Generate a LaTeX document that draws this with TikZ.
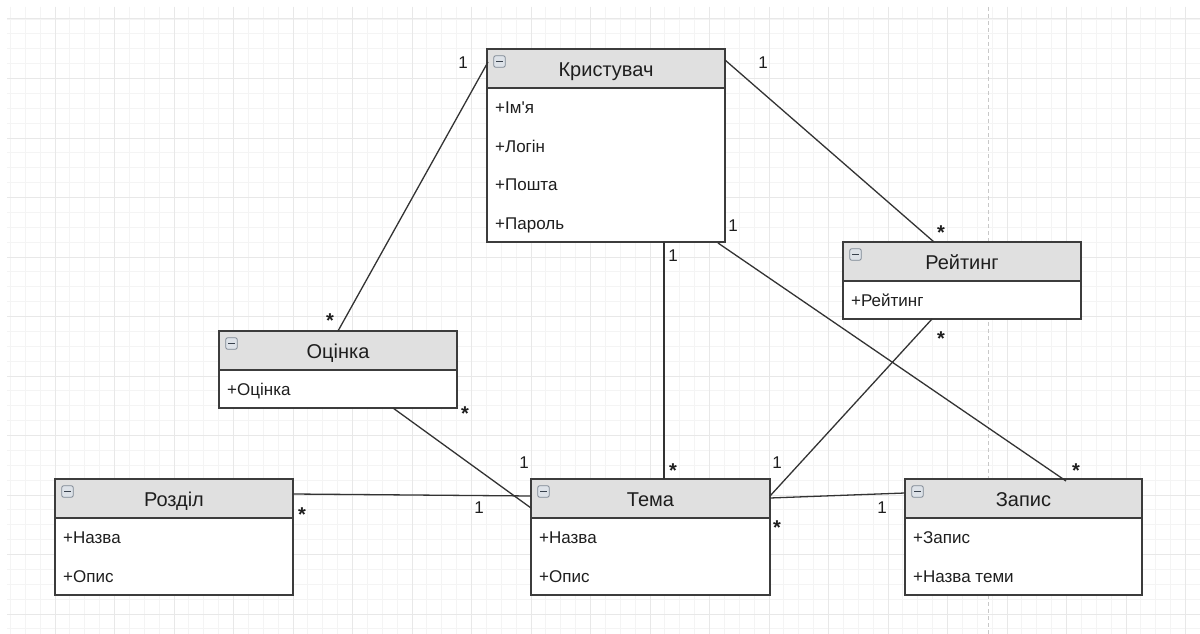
\documentclass[tikz,border=0pt]{standalone}
\usepackage{fontspec}
\setmainfont{Liberation Sans}
\newfontfamily\plain{Liberation Sans}
\usetikzlibrary{calc}
\definecolor{hdrfill}{HTML}{E0E0E0}
\definecolor{boxline}{HTML}{3C3C3C}
\definecolor{conn}{HTML}{333333}
\definecolor{txt}{HTML}{1E1E1E}
\definecolor{gridminor}{HTML}{F4F4F4}
\definecolor{gridmajor}{HTML}{E8E8E8}
\definecolor{dashcol}{HTML}{C8C8C8}
\definecolor{iconfill}{HTML}{DDE2E8}
\definecolor{iconline}{HTML}{7D8793}
\definecolor{icondash}{HTML}{39424D}
\begin{document}
\begin{tikzpicture}[x=1pt,y=-1pt,
  cls/.style={draw=boxline, line width=1.4pt, fill=white, rectangle, anchor=north west, inner sep=0pt, outer sep=0pt},
  title/.style={anchor=base, inner sep=0pt, text=txt, font=\plain\fontsize{20}{24}\selectfont},
  attr/.style={anchor=base west, inner sep=0pt, text=txt, font=\plain\fontsize{17}{20}\selectfont},
  lbl/.style={inner sep=0pt, text=txt, font=\plain\fontsize{17}{20}\selectfont},
  starlbl/.style={inner sep=0pt, text=txt, font=\plain\bfseries\fontsize{20}{24}\selectfont},
  icon/.style={draw=iconline, fill=iconfill, line width=0.8pt, rounded corners=2pt, minimum size=11.5pt, inner sep=0pt,
    path picture={\draw[line width=1.4pt, draw=icondash] ($(path picture bounding box.center)+(-3.2,0)$) -- ++(6.4,0);}},
  link/.style={draw=conn, line width=1.3pt}
]
\useasboundingbox (0,0) rectangle (1200,634);
\fill[white] (0,0) rectangle (1200,634);
% grid
\foreach \i in {-3,...,77} {
  \draw[gridminor, line width=0.8pt] ({55+14.875*\i},7) -- ({55+14.875*\i},634);
}
\foreach \j in {0,...,41} {
  \draw[gridminor, line width=0.8pt] (7,{19+14.875*\j}) -- (1200,{19+14.875*\j});
}
\foreach \i in {0,...,19} {
  \draw[gridmajor, line width=1pt] ({55+59.5*\i},7) -- ({55+59.5*\i},634);
}
\foreach \j in {0,...,10} {
  \draw[gridmajor, line width=1pt] (7,{19+59.5*\j}) -- (1200,{19+59.5*\j});
}
\draw[dashcol, line width=1pt, dash pattern=on 4pt off 3pt] (988,7) -- (988,634);

% classes
\node[cls, minimum width=238pt, minimum height=193pt] (k) at (487,49) {};
\node[cls, minimum width=238pt, minimum height=77pt] (o) at (219,331) {};
\node[cls, minimum width=238pt, minimum height=77pt] (r) at (843,242) {};
\node[cls, minimum width=238pt, minimum height=116pt] (rz) at (55,479) {};
\node[cls, minimum width=239pt, minimum height=116pt] (t) at (531,479) {};
\node[cls, minimum width=237pt, minimum height=116pt] (p) at (905,479) {};

\foreach \b in {k,o,r,rz,t,p} {
  \fill[hdrfill] (\b.north west) rectangle ($(\b.north east)+(0,39)$);
  \draw[boxline, line width=1.4pt] (\b.north west) rectangle (\b.south east);
  \draw[boxline, line width=1.4pt] ($(\b.north west)+(0,39)$) -- ($(\b.north east)+(0,39)$);
  \node[icon] (\b-icon) at ($(\b.north west)+(12.5,12.5)$) {};
}

% titles
\node[title] (k-t) at ($(k.north)+(0,27.5)$) {Кристувач};
\node[title] (o-t) at ($(o.north)+(0,27.5)$) {Оцінка};
\node[title] (r-t) at ($(r.north)+(0,27.5)$) {Рейтинг};
\node[title] (rz-t) at ($(rz.north)+(0,27.5)$) {Розділ};
\node[title] (t-t) at ($(t.north)+(0,27.5)$) {Тема};
\node[title] (p-t) at ($(p.north)+(0,27.5)$) {Запис};

% attributes
\node[attr] (k-a1) at ($(k.north west)+(8,64.5)$) {+Ім'я};
\node[attr] (k-a2) at ($(k.north west)+(8,103.2)$) {+Логін};
\node[attr] (k-a3) at ($(k.north west)+(8,141.9)$) {+Пошта};
\node[attr] (k-a4) at ($(k.north west)+(8,180.6)$) {+Пароль};
\node[attr] (o-a1) at ($(o.north west)+(8,64.5)$) {+Оцінка};
\node[attr] (r-a1) at ($(r.north west)+(8,64.5)$) {+Рейтинг};
\node[attr] (rz-a1) at ($(rz.north west)+(8,64.5)$) {+Назва};
\node[attr] (rz-a2) at ($(rz.north west)+(8,103.2)$) {+Опис};
\node[attr] (t-a1) at ($(t.north west)+(8,64.5)$) {+Назва};
\node[attr] (t-a2) at ($(t.north west)+(8,103.2)$) {+Опис};
\node[attr] (p-a1) at ($(p.north west)+(8,64.5)$) {+Запис};
\node[attr] (p-a2) at ($(p.north west)+(8,103.2)$) {+Назва теми};

% connectors
\draw[link] ($(k.north west)+(1,13)$) -- ($(o.north west)+(119,0)$);
\draw[link] ($(k.north east)+(0,11)$) -- ($(r.north west)+(91,0)$);
\draw[link] ($(k.south west)+(177,0)$) -- ($(t.north west)+(133,0)$);
\draw[link] ($(k.south west)+(231,1)$) -- ($(p.north west)+(161,2)$);
\draw[link] ($(r.south west)+(89,0)$) -- ($(t.north east)+(0,17)$);
\draw[link] ($(o.south west)+(174,0)$) -- ($(t.north west)+(0,29)$);
\draw[link] ($(rz.north east)+(0,15)$) -- ($(t.north west)+(0,17)$);
\draw[link] ($(t.north east)+(0,19)$) -- ($(p.north west)+(0,14)$);

% multiplicities
\node[lbl] (m1a) at (463,63) {1};
\node[starlbl] (m1b) at (330,321) {*};
\node[lbl] (m2a) at (763,63) {1};
\node[starlbl] (m2b) at (941,233) {*};
\node[lbl] (m3a) at (673,256) {1};
\node[starlbl] (m3b) at (673,471) {*};
\node[lbl] (m4a) at (733,226) {1};
\node[starlbl] (m4b) at (1076,471) {*};
\node[starlbl] (m5a) at (941,339) {*};
\node[lbl] (m5b) at (777,463) {1};
\node[starlbl] (m6a) at (465,414) {*};
\node[lbl] (m6b) at (524,463) {1};
\node[starlbl] (m7a) at (302,515) {*};
\node[lbl] (m7b) at (479,508) {1};
\node[starlbl] (m8a) at (777,528) {*};
\node[lbl] (m8b) at (882,508) {1};
\end{tikzpicture}
\end{document}
